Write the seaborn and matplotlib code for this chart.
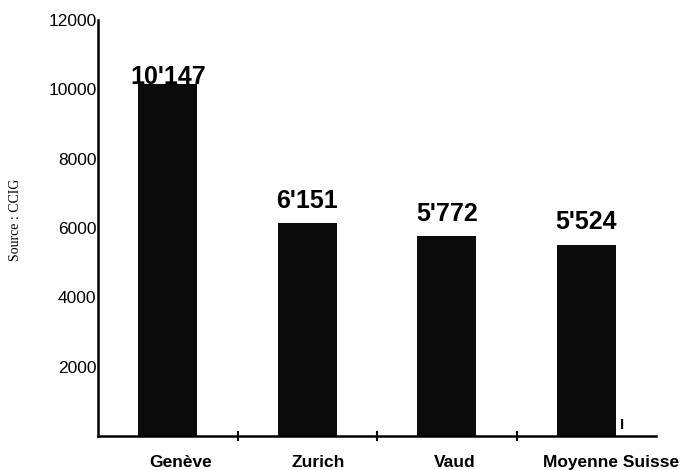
import matplotlib
matplotlib.use("Agg")
import matplotlib.pyplot as plt
import seaborn as sns
import pandas as pd

categories = ["Genève", "Zurich", "Vaud", "Moyenne Suisse"]
values = [10147, 6151, 5772, 5524]
value_labels = ["10'147", "6'151", "5'772", "5'524"]
yticks = [2000, 4000, 6000, 8000, 10000, 12000]
ytick_labels = ["2000", "4000", "6000", "8000", "10000", "12000"]

sns.set_theme(style="white")
plt.rcParams["font.family"] = ["Liberation Sans", "DejaVu Sans"]

df = pd.DataFrame({"cat": categories, "val": values})

fig = plt.figure(figsize=(6.83, 4.70), dpi=100)
ax = fig.add_axes([0.1435, 0.0723, 0.817, 0.885])

sns.barplot(data=df, x="cat", y="val", color="#0b0b0b", saturation=1,
            width=0.42, ax=ax, edgecolor="none")

ax.set_xlim(-0.5, 3.5)
ax.set_ylim(0, 12000)

# y axis
ax.set_yticks(yticks)
ax.set_yticklabels(ytick_labels, fontsize=12.5)
ax.tick_params(axis="y", length=0, pad=1, colors="black")

# x axis: labels at offset positions, small tick marks between bars
label_pos = [0.09, 1.08, 2.06, 3.18]
ax.set_xticks(label_pos)
ax.set_xticklabels(categories, fontsize=12.5, fontweight="bold")
ax.tick_params(axis="x", which="major", length=0, pad=14, colors="black")
ax.set_xticks([0.5, 1.5, 2.5], minor=True)
ax.tick_params(axis="x", which="minor", direction="inout", length=7,
               width=1.5, color="black", bottom=True)
ax.set_xlabel("")
ax.set_ylabel("")

for s in ["top", "right"]:
    ax.spines[s].set_visible(False)
for s in ["left", "bottom"]:
    ax.spines[s].set_color("black")
    ax.spines[s].set_linewidth(1.8)

# value labels
offsets = [0, 11, 11, 11]
for i, (v, lab) in enumerate(zip(values, value_labels)):
    ax.annotate(lab, (i, v), xytext=(0, offsets[i]), textcoords="offset points",
                ha="center", va="baseline", fontsize=18, fontweight="bold",
                color="black")

# small stray mark near last bar
ax.annotate("I", (3.26, 0), xytext=(0, 3), textcoords="offset points",
            ha="center", va="bottom", fontsize=11, fontweight="bold", color="black")

fig.text(0.022, 0.532, "Source : CCIG", rotation=90, ha="center", va="center",
         fontsize=10, family=["Liberation Serif", "DejaVu Serif"], color="black")

fig.savefig("out.png", dpi=100)
